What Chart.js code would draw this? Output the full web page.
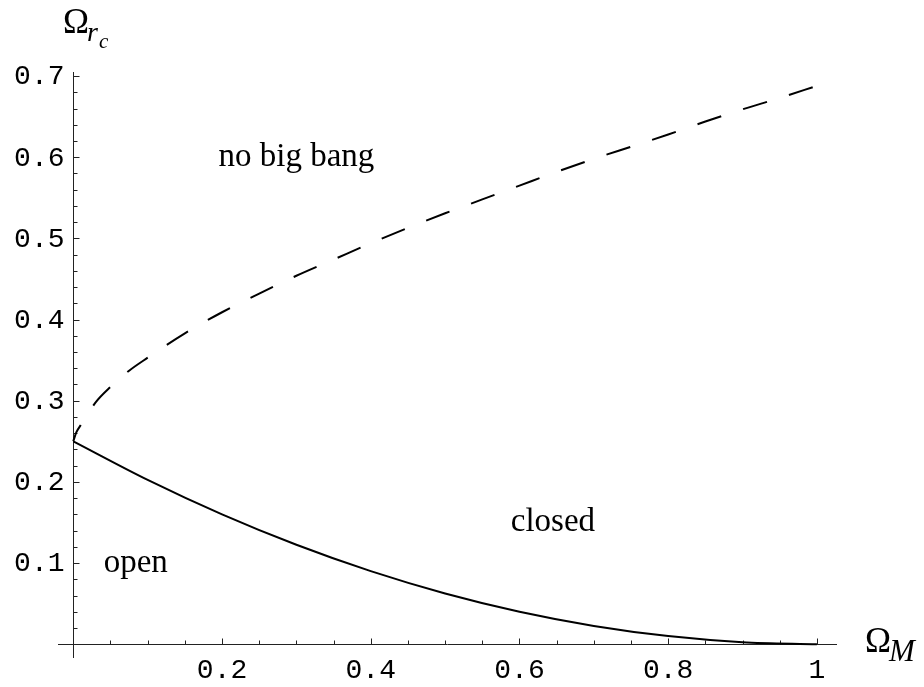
<!DOCTYPE html>
<html>
<head>
<meta charset="utf-8">
<title>Omega_rc vs Omega_M</title>
<script src="https://cdn.jsdelivr.net/npm/chart.js@4.4.1/dist/chart.umd.min.js"></script>
<style>
    html, body { margin: 0; padding: 0; background: #fff; }
    #wrap { width: 924px; height: 687px; position: relative; }
</style>
</head>
<body>
<div id="wrap"><canvas id="chart" width="924" height="687"></canvas></div>
<script>
// --- data ---
// flat-universe boundary (solid)
const flatX = [0, 0.1, 0.2, 0.3, 0.4, 0.5, 0.6, 0.7, 0.8, 0.9, 1.0];
const flatY = [0.25, 0.2025, 0.16, 0.1225, 0.09, 0.0625, 0.04, 0.0225, 0.01, 0.0025, 0];

// "no big bang" boundary (dashed)
const noBangX = [0, 0.004, 0.01, 0.02, 0.03, 0.05, 0.075, 0.1, 0.15, 0.2, 0.25, 0.3, 0.35,
    0.4, 0.45, 0.5, 0.55, 0.6, 0.65, 0.7, 0.75, 0.8, 0.85, 0.9, 0.95, 1.0];
const noBangY = [0.25, 0.261, 0.27, 0.284, 0.298, 0.317, 0.337, 0.353, 0.383, 0.409, 0.432, 0.454, 0.474,
    0.494, 0.513, 0.531, 0.548, 0.565, 0.582, 0.598, 0.613, 0.628, 0.644, 0.659, 0.673, 0.688];

// tick labels
const xTicks = [0.2, 0.4, 0.6, 0.8, 1];
const xTickLabels = ['0.2', '0.4', '0.6', '0.8', '1'];
const yTicks = [0.1, 0.2, 0.3, 0.4, 0.5, 0.6, 0.7];
const yTickLabels = ['0.1', '0.2', '0.3', '0.4', '0.5', '0.6', '0.7'];

// region labels
const regionNames = ['no big bang', 'open', 'closed'];
const regionX = [0.3, 0.084, 0.645];
const regionY = [0.6, 0.1, 0.15];

const toPoints = (xs, ys) => xs.map((x, i) => ({ x: x, y: ys[i] }));

const MONO = "28px 'Liberation Mono', 'DejaVu Sans Mono', monospace";
const SERIF = "'Liberation Serif', 'DejaVu Serif', serif";

/**
 * Mathematica-style axes: crossing lines, inward ticks, labels
 */
const axesPlugin = {
    id: 'mathAxes',
    beforeDatasetsDraw(chart) {
        const ctx = chart.ctx;
        const area = chart.chartArea;
        const xs = chart.scales.x;
        const ys = chart.scales.y;
        const px0 = Math.round(xs.getPixelForValue(0)) + 0.5;
        const py0 = Math.round(ys.getPixelForValue(0)) + 0.5;

        ctx.save();
        ctx.strokeStyle = '#222';
        ctx.lineWidth = 1;

        // axis lines
        ctx.beginPath();
        ctx.moveTo(area.left, py0);
        ctx.lineTo(area.right, py0);
        ctx.moveTo(px0, area.top);
        ctx.lineTo(px0, area.bottom);
        ctx.stroke();

        // x minor ticks every 0.05, major at labels
        ctx.beginPath();
        for (let i = 1; i <= 20; i++) {
            const p = Math.round(xs.getPixelForValue(i * 0.05)) + 0.5;
            const major = i % 4 === 0;
            ctx.moveTo(p, py0);
            ctx.lineTo(p, py0 - (major ? 6 : 4));
        }
        // y minor ticks every 0.02, major every 0.1
        for (let i = 1; i <= 35; i++) {
            const p = Math.round(ys.getPixelForValue(i * 0.02)) + 0.5;
            const major = i % 5 === 0;
            ctx.moveTo(px0, p);
            ctx.lineTo(px0 + (major ? 6 : 4), p);
        }
        ctx.stroke();

        // tick labels
        ctx.fillStyle = '#000';
        ctx.font = MONO;
        ctx.textAlign = 'center';
        ctx.textBaseline = 'middle';
        xTicks.forEach((v, i) => {
            ctx.fillText(xTickLabels[i], xs.getPixelForValue(v), py0 + 26);
        });
        ctx.textAlign = 'right';
        yTicks.forEach((v, i) => {
            ctx.fillText(yTickLabels[i], px0 - 9, ys.getPixelForValue(v) + 1);
        });

        ctx.restore();
    },
    afterDraw(chart) {
        const ctx = chart.ctx;
        const xs = chart.scales.x;
        const ys = chart.scales.y;

        ctx.save();
        ctx.fillStyle = '#000';
        ctx.textBaseline = 'middle';
        ctx.textAlign = 'center';
        ctx.font = '33px ' + SERIF;
        regionNames.forEach((name, i) => {
            ctx.fillText(name, xs.getPixelForValue(regionX[i]), ys.getPixelForValue(regionY[i]));
        });

        // axis titles
        ctx.textBaseline = 'alphabetic';
        ctx.textAlign = 'left';
        ctx.font = '35px ' + SERIF;
        ctx.fillText('\u03A9', 63, 33);
        ctx.font = 'italic 28px ' + SERIF;
        ctx.fillText('r', 87, 41);
        ctx.font = 'italic 21px ' + SERIF;
        ctx.fillText('c', 99, 48);

        ctx.font = '35px ' + SERIF;
        ctx.fillText('\u03A9', 865, 652);
        ctx.font = 'italic 31px ' + SERIF;
        ctx.fillText('M', 889, 661);
        ctx.restore();
    }
};

const chart = new Chart(document.getElementById('chart'), {
    type: 'scatter',
    data: {
        datasets: [
            {
                label: 'flat',
                data: toPoints(flatX, flatY),
                showLine: true,
                borderColor: '#000',
                borderWidth: 2,
                pointRadius: 0,
                cubicInterpolationMode: 'monotone'
            },
            {
                label: 'no big bang',
                data: toPoints(noBangX, noBangY),
                showLine: true,
                borderColor: '#000',
                borderWidth: 2,
                borderDash: [25, 23],
                borderDashOffset: 7,
                pointRadius: 0,
                cubicInterpolationMode: 'monotone'
            }
        ]
    },
    options: {
        responsive: false,
        animation: false,
        layout: { padding: { left: 58, right: 87, top: 72, bottom: 29 } },
        scales: {
            x: { type: 'linear', min: -0.0206, max: 1.027, display: false },
            y: { type: 'linear', min: -0.017, max: 0.705, display: false }
        },
        plugins: {
            legend: { display: false },
            tooltip: { enabled: false }
        }
    },
    plugins: [axesPlugin]
});
</script>
</body>
</html>
